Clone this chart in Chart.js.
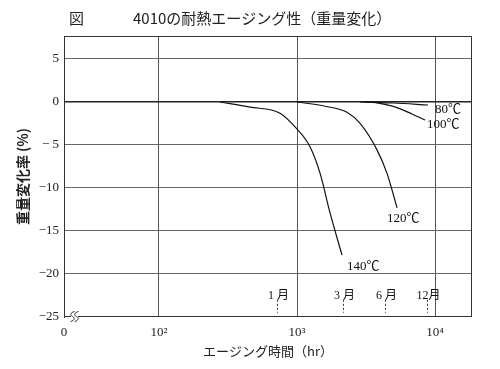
<!DOCTYPE html>
<html>
<head>
<meta charset="utf-8">
<script src="https://cdn.jsdelivr.net/npm/chart.js@4"></script>
<style>
  html, body { margin: 0; padding: 0; background: #fff; }
  #wrap { width: 500px; height: 369px; }
</style>
</head>
<body>
<div id="wrap"><canvas id="graphique" width="500" height="369"></canvas></div>
<script>
// donnees (heures, % de variation)
const hrs80 = [2865, 5000, 8890];
const val80 = [0, -0.12, -0.35];
const hrs100 = [3556, 5300, 6808, 8472];
const val100 = [0, -0.65, -1.4, -2.1];
const hrs120 = [1000, 1600, 2300, 2864, 3805, 4488, 5306];
const val120 = [0, -0.5, -1.2, -2.5, -5.6, -8.3, -12.3];
const hrs140 = [277, 456, 753, 968, 1242, 1470, 1735, 2118];
const val140 = [0, -0.6, -1.3, -2.9, -5.2, -8.3, -12.9, -17.8];

const curveLabels = ['80℃', '100℃', '120℃', '140℃'];
const curveLabelHrs = [10000, 8750, 4488, 2301];
const curveLabelVal = [-0.93, -2.67, -13.5, -19.1];

const monthLabels = ['1 月', '3 月', '6 月', '12月'];
const monthHrs = [720, 2160, 4320, 8760];

const xTicks = [20.5, 100, 1000, 10000];
const xTickLabels = ['0', '10²', '10³', '10⁴'];
const yTicks = [-25, -20, -15, -10, -5, 0, 5];
const yTickLabels = ['−25', '−20', '−15', '−10', '− 5', '0', '5'];

const serif = '"Liberation Serif", "Noto Sans CJK JP", serif';
const gothic = '"Noto Sans CJK JP", sans-serif';

function pts(xs, ys) {
    return xs.map((x, i) => ({ x: x, y: ys[i] }));
}

// titre, etiquettes des courbes, mois, cassure de l'axe, cadre
const decor = {
    id: 'decor',
    afterDraw(chart) {
        const ctx = chart.ctx;
        const a = chart.chartArea;
        const sx = chart.scales.x;
        const sy = chart.scales.y;
        ctx.save();

        ctx.fillStyle = '#222';
        ctx.textBaseline = 'middle';
        ctx.textAlign = 'left';
        ctx.font = '15px ' + gothic;
        ctx.fillText('図', 69, 18);
        ctx.fillText('4010の耐熱エージング性（重量変化）', 133, 18);

        // cadre haut et droit
        ctx.strokeStyle = '#333';
        ctx.lineWidth = 1;
        ctx.beginPath();
        ctx.moveTo(a.left, a.top + 0.5);
        ctx.lineTo(a.right - 0.5, a.top + 0.5);
        ctx.lineTo(a.right - 0.5, a.bottom);
        ctx.stroke();

        // axe du bas avec cassure
        const yb = a.bottom - 0.5;
        ctx.beginPath();
        ctx.moveTo(a.left, yb);
        ctx.lineTo(a.left + 7, yb);
        ctx.moveTo(a.left + 14, yb);
        ctx.lineTo(a.right, yb);
        ctx.stroke();
        [a.left + 8.5, a.left + 12.5].forEach(cx => {
            ctx.beginPath();
            ctx.moveTo(cx + 2, yb - 5);
            ctx.bezierCurveTo(cx - 2.5, yb - 4, cx - 2.5, yb - 1, cx, yb);
            ctx.bezierCurveTo(cx + 2.5, yb + 1, cx + 2.5, yb + 4, cx - 2, yb + 5);
            ctx.stroke();
        });

        // etiquettes des courbes
        ctx.font = '13px ' + serif;
        ctx.fillStyle = '#111';
        curveLabels.forEach((t, i) => {
            ctx.fillText(t, sx.getPixelForValue(curveLabelHrs[i]), sy.getPixelForValue(curveLabelVal[i]));
        });

        // reperes des mois
        ctx.textAlign = 'center';
        ctx.font = '12px ' + serif;
        ctx.setLineDash([2, 2]);
        monthHrs.forEach((h, i) => {
            const px = Math.round(sx.getPixelForValue(h)) + 0.5;
            ctx.fillText(monthLabels[i], px + 1, sy.getPixelForValue(-22.5));
            ctx.beginPath();
            ctx.moveTo(px, sy.getPixelForValue(-23));
            ctx.lineTo(px, sy.getPixelForValue(-24.5));
            ctx.stroke();
        });
        ctx.restore();
    }
};

const lineStyle = {
    borderColor: '#111',
    borderWidth: 1.2,
    pointRadius: 0,
    fill: false,
    cubicInterpolationMode: 'monotone'
};

new Chart(document.getElementById('graphique'), {
    type: 'line',
    data: {
        datasets: [
            Object.assign({ label: '80℃', data: pts(hrs80, val80) }, lineStyle),
            Object.assign({ label: '100℃', data: pts(hrs100, val100) }, lineStyle),
            Object.assign({ label: '120℃', data: pts(hrs120, val120) }, lineStyle),
            Object.assign({ label: '140℃', data: pts(hrs140, val140) }, lineStyle)
        ]
    },
    plugins: [decor],
    options: {
        responsive: false,
        animation: false,
        layout: { padding: { top: 36, right: 28, bottom: 0, left: 0 } },
        plugins: {
            legend: { display: false },
            tooltip: { enabled: false }
        },
        scales: {
            x: {
                type: 'logarithmic',
                min: 20.5,
                max: 18530,
                afterBuildTicks: s => { s.ticks = xTicks.map(v => ({ value: v })); },
                afterFit: s => { s.height = 52; },
                grid: {
                    color: '#555',
                    lineWidth: 1,
                    drawTicks: false
                },
                border: { display: false },
                ticks: {
                    autoSkip: false,
                    maxRotation: 0,
                    padding: 8,
                    color: '#222',
                    font: { family: serif, size: 13 },
                    callback: (v, i) => xTickLabels[i]
                },
                title: {
                    display: true,
                    text: 'エージング時間（hr）',
                    color: '#222',
                    font: { family: gothic, size: 13 },
                    padding: { top: 0, bottom: 10 }
                }
            },
            y: {
                min: -25,
                max: 7.67,
                afterBuildTicks: s => { s.ticks = yTicks.map(v => ({ value: v })); },
                afterFit: s => { s.width = 64; },
                grid: {
                    drawTicks: false,
                    color: c => c.tick.value === -25 ? 'rgba(0,0,0,0)' : (c.tick.value === 0 ? '#222' : '#666'),
                    lineWidth: c => c.tick.value === 0 ? 1.5 : 1
                },
                border: { display: true, color: '#333' },
                ticks: {
                    padding: 5,
                    color: '#222',
                    font: { family: serif, size: 13 },
                    callback: (v, i) => yTickLabels[i]
                },
                title: {
                    display: true,
                    text: '重量変化率 (%)',
                    color: '#222',
                    font: { family: gothic, size: 14, weight: 'bold' },
                    padding: { top: 14, bottom: 0 }
                }
            }
        }
    }
});
</script>
</body>
</html>
